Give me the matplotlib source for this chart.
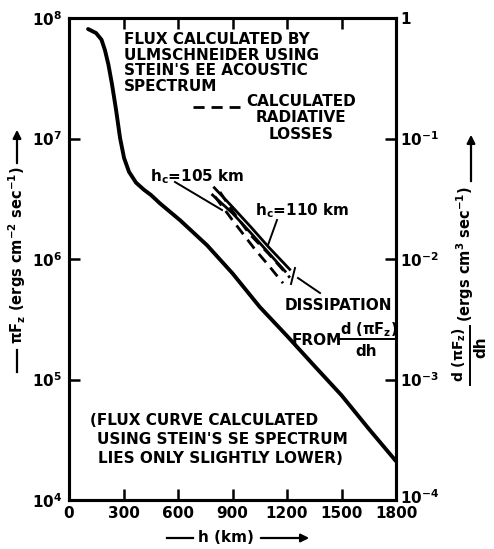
import matplotlib.pyplot as plt
import matplotlib.transforms as mtransforms
from matplotlib.patches import FancyArrowPatch
from matplotlib.lines import Line2D

# Flux calculated by Ulmschneider using Stein's EE acoustic spectrum
h_flux = [105, 149, 179, 198, 217, 237, 259, 281, 303, 330, 369, 413, 451,
          500, 611, 760, 900, 1050, 1200, 1350, 1500, 1650, 1800]
flux = [8.1e7, 7.5e7, 6.6e7, 5.4e7, 4.1e7, 2.8e7, 1.73e7, 1.01e7, 6.9e6,
        5.3e6, 4.3e6, 3.75e6, 3.4e6, 2.9e6, 2.1e6, 1.3e6, 7.6e5, 4.0e5,
        2.3e5, 1.3e5, 7.4e4, 3.9e4, 2.1e4]

# dissipation d(piF)/dh for two h_c values (solid)
h_hc110 = [800, 900, 1000, 1100, 1215]
diss_hc110 = [3.9e6, 2.7e6, 1.85e6, 1.25e6, 8.2e5]
h_hc105 = [790, 900, 1000, 1100, 1190]
diss_hc105 = [3.4e6, 2.4e6, 1.65e6, 1.12e6, 7.9e5]

# calculated radiative losses (dashed)
h_rad1 = [803, 900, 1024, 1100, 1178]
rad1 = [3.3e6, 2.1e6, 1.2e6, 8.8e5, 6.3e5]
h_rad2 = [831, 900, 996, 1100, 1216]
rad2 = [3.6e6, 2.5e6, 1.6e6, 1.1e6, 7.0e5]

x_ticks = [0, 300, 600, 900, 1200, 1500, 1800]
left_ticks = [1e4, 1e5, 1e6, 1e7, 1e8]
left_labels = [r"$10^4$", r"$10^5$", r"$10^6$", r"$10^7$", r"$10^8$"]
right_ticks = [1e-4, 1e-3, 1e-2, 1e-1, 1]
right_labels = [r"$10^{-4}$", r"$10^{-3}$", r"$10^{-2}$", r"$10^{-1}$", "1"]

plt.rcParams["font.family"] = ["DejaVu Sans"]
plt.rcParams["font.weight"] = "bold"
plt.rcParams["mathtext.fontset"] = "dejavusans"
plt.rcParams["mathtext.default"] = "bf"

W, H = 494, 549


def fx(x):
    return x / W


def fy(y):
    return 1 - y / H


fig = plt.figure(figsize=(W / 100, H / 100), dpi=100)
ax = fig.add_axes([fx(69), fy(500), (396 - 69) / W, (500 - 18) / H])

ax.plot(h_flux, flux, color="black", lw=2.8, solid_capstyle="round")
ax.plot(h_hc110, diss_hc110, color="black", lw=2.0)
ax.plot(h_hc105, diss_hc105, color="black", lw=2.0)
ax.plot(h_rad1, rad1, color="black", lw=2.0, ls=(0, (4, 2.5)))
ax.plot(h_rad2, rad2, color="black", lw=2.0, ls=(0, (4, 2.5)))

ax.set_yscale("log")
ax.set_xlim(0, 1800)
ax.set_ylim(1e4, 1e8)
ax.set_xticks(x_ticks)
ax.set_xticklabels([str(v) for v in x_ticks], fontsize=11)
ax.set_yticks(left_ticks)
ax.set_yticklabels(left_labels, fontsize=11)
ax.minorticks_off()
ax.tick_params(axis="x", direction="in", top=True, length=8, width=1.8, pad=4)
ax.tick_params(axis="y", direction="in", length=8, width=1.8, pad=5)
for s in ax.spines.values():
    s.set_linewidth(2.2)

ax2 = ax.twinx()
ax2.set_yscale("log")
ax2.set_ylim(1e-4, 1)
ax2.set_yticks(right_ticks)
ax2.set_yticklabels(right_labels, fontsize=11)
ax2.minorticks_off()
ax2.tick_params(axis="y", direction="in", length=8, width=1.8, pad=3)
for s in ax2.spines.values():
    s.set_linewidth(2.2)
# lift the lowest right label a little, as in the original
lab = ax2.get_yticklabels()[0]
lab.set_transform(lab.get_transform() +
                  mtransforms.ScaledTranslation(0, 4 / 100, fig.dpi_scale_trans))

T = ax.transAxes


def axp(x, y):
    return ((x - 69) / 327, (500 - y) / 482)


# text blocks
ax.text(*axp(124, 32), "FLUX CALCULATED BY\nULMSCHNEIDER USING\nSTEIN'S EE ACOUSTIC\nSPECTRUM",
        transform=T, ha="left", va="top", fontsize=11, linespacing=1.05)
ax.text(*axp(301, 94), "CALCULATED\nRADIATIVE\nLOSSES", transform=T,
        ha="center", va="top", fontsize=11, linespacing=1.12)
ax.add_line(Line2D([axp(193, 0)[0], axp(240, 0)[0]], [axp(0, 107)[1]] * 2,
                   transform=T, color="black", lw=2.0, ls=(0, (4, 2.5))))
ax.text(*axp(150, 181), r"h$_c$=105 km", transform=T, ha="left",
        va="baseline", fontsize=11)
ax.text(*axp(255, 215), r"h$_c$=110 km", transform=T, ha="left",
        va="baseline", fontsize=11)
ax.text(*axp(285, 310), "DISSIPATION", transform=T, ha="left",
        va="baseline", fontsize=11)
ax.text(*axp(292, 345), "FROM", transform=T, ha="left",
        va="baseline", fontsize=11)
ax.text(*axp(369, 334), r"d ($\pi$F$_z$)", transform=T, ha="center",
        va="baseline", fontsize=10.5)
ax.add_line(Line2D([axp(338, 0)[0], axp(398, 0)[0]], [axp(0, 339)[1]] * 2,
                   transform=T, color="black", lw=1.4))
ax.text(*axp(366, 352), "dh", transform=T, ha="center",
        va="center", fontsize=11)
ax.text(*axp(90, 425), "(FLUX CURVE CALCULATED", transform=T, ha="left",
        va="baseline", fontsize=11)
ax.text(*axp(97, 444), "USING STEIN'S SE SPECTRUM", transform=T, ha="left",
        va="baseline", fontsize=11)
ax.text(*axp(98, 463), "LIES ONLY SLIGHTLY LOWER)", transform=T, ha="left",
        va="baseline", fontsize=11)

# leader lines
for (x0, y0), (x1, y1) in [((175, 182), (222, 210)),
                           ((277, 220), (268, 245)),
                           ((320, 293), (298, 278)),
                           ((295, 268), (291, 284))]:
    a, b = axp(x0, y0), axp(x1, y1)
    ax.add_line(Line2D([a[0], b[0]], [a[1], b[1]], transform=T,
                       color="black", lw=1.4))

# axis labels with arrows
fig.text(fx(226), fy(538), "h (km)", ha="center", va="center", fontsize=11)
fig.add_artist(Line2D([fx(167), fx(193)], [fy(538)] * 2, color="black", lw=1.6))
fig.add_artist(FancyArrowPatch((fx(258), fy(538)), (fx(312), fy(538)),
                               transform=fig.transFigure, arrowstyle="-|>",
                               mutation_scale=12, color="black", lw=1.6))

fig.text(fx(17), fy(255), r"$\pi$F$_z$ (ergs cm$^{-2}$ sec$^{-1}$)",
         rotation=90, ha="center", va="center", fontsize=10.5)
fig.add_artist(Line2D([fx(17)] * 2, [fy(350), fy(372)], color="black", lw=1.6))
fig.add_artist(FancyArrowPatch((fx(17), fy(166)), (fx(17), fy(127)),
                               transform=fig.transFigure, arrowstyle="-|>",
                               mutation_scale=12, color="black", lw=1.6))

fig.text(fx(465), fy(254), r"(ergs cm$^{3}$ sec$^{-1}$)",
         rotation=90, ha="center", va="center", fontsize=10.5)
fig.text(fx(459), fy(355), r"d ($\pi$F$_z$)",
         rotation=90, ha="center", va="center", fontsize=10)
fig.add_artist(Line2D([fx(470)] * 2, [fy(326), fy(385)], color="black", lw=1.4))
fig.text(fx(481), fy(347), "dh",
         rotation=90, ha="center", va="center", fontsize=11)
fig.add_artist(FancyArrowPatch((fx(471), fy(184)), (fx(471), fy(132)),
                               transform=fig.transFigure, arrowstyle="-|>",
                               mutation_scale=12, color="black", lw=1.6))

fig.savefig("out.png", dpi=100)
